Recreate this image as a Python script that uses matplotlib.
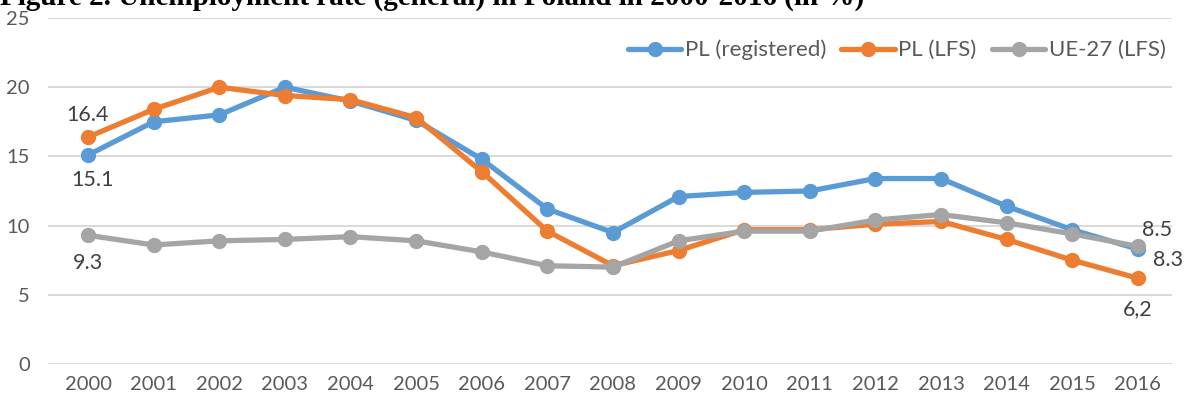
import matplotlib.pyplot as plt

# dane: stopa bezrobocia w %
years = [str(y) for y in range(2000, 2017)]
pl_registered = [15.1, 17.5, 18.0, 20.0, 19.0, 17.6, 14.8, 11.2, 9.5, 12.1, 12.4, 12.5, 13.4, 13.4, 11.4, 9.7, 8.3]
pl_lfs = [16.4, 18.4, 20.0, 19.4, 19.1, 17.8, 13.9, 9.6, 7.1, 8.2, 9.7, 9.7, 10.1, 10.3, 9.0, 7.5, 6.2]
eu27_lfs = [9.3, 8.6, 8.9, 9.0, 9.2, 8.9, 8.1, 7.1, 7.0, 8.9, 9.6, 9.6, 10.4, 10.8, 10.2, 9.4, 8.5]
series_names = ["PL (registered)", "PL (LFS)", "UE-27 (LFS)"]
colors = ["#5B9BD5", "#ED7D31", "#A5A5A5"]

plt.rcParams["font.family"] = ["Lato", "DejaVu Sans"]

fig = plt.figure(figsize=(11.89, 4.05), dpi=100)
ax = fig.add_axes([48 / 1189, 1 - 364 / 405, (1172 - 48) / 1189, (364 - 18) / 405])

x = list(range(len(years)))
for vals, name, col in zip([pl_registered, pl_lfs, eu27_lfs], series_names, colors):
    ax.plot(x, vals, color=col, linewidth=3.8, marker="o", markersize=10,
            label=name, solid_capstyle="round", solid_joinstyle="round")

ax.set_ylim(0, 25)
ax.set_xlim(-0.61, 16.52)
ax.set_yticks([0, 5, 10, 15, 20, 25])
ax.set_xticks(x)
ax.set_xticklabels(years)
ax.grid(axis="y", color="#d9d9d9", linewidth=1.4)
ax.set_axisbelow(True)
for s in ax.spines.values():
    s.set_visible(False)
ax.tick_params(axis="both", length=0, labelsize=14.5, labelcolor="#595959")
ax.tick_params(axis="y", pad=13)
ax.tick_params(axis="x", pad=9)

# etykiety wartości
lab = dict(fontsize=15.5, color="#404040", ha="center", va="center", textcoords="offset points")
ax.annotate("16.4", (0, pl_lfs[0]), xytext=(0, 16), **lab)
ax.annotate("15.1", (0, pl_registered[0]), xytext=(3, -18), **lab)
ax.annotate("9.3", (0, eu27_lfs[0]), xytext=(0, -20), **lab)
ax.annotate("8.5", (16, eu27_lfs[16]), xytext=(14, 12), **lab)
ax.annotate("8.3", (16, pl_registered[16]), xytext=(22, -8), **lab)
ax.annotate("6,2", (16, pl_lfs[16]), xytext=(0, -22), **lab)

leg = ax.legend(loc="upper right", bbox_to_anchor=(1.012, 0.995), ncol=3, frameon=False,
                fontsize=16, handlelength=2.4, handletextpad=0.15, columnspacing=0.7)
for t in leg.get_texts():
    t.set_color("#595959")

# obcięty tytuł na górze
fig.text(0.0, 1 - 5 / 405, "Figure 2. Unemployment rate (general) in Poland in 2000-2016 (in %)",
         family=["Liberation Serif"], fontweight="bold", fontsize=21, va="baseline", ha="left")

fig.savefig("out.png", dpi=100)
